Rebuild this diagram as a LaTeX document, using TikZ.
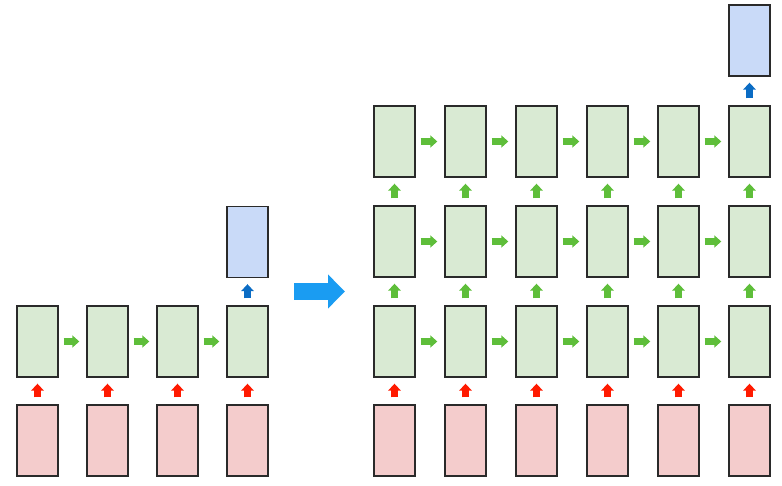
\documentclass[tikz,border=0pt]{standalone}
\usetikzlibrary{arrows.meta}
\definecolor{gfill}{HTML}{D9EAD3}
\definecolor{rfill}{HTML}{F4CCCC}
\definecolor{bfill}{HTML}{C9DAF8}
\definecolor{garrow}{HTML}{5EBE3A}
\definecolor{rarrow}{HTML}{FF1A00}
\definecolor{barrow}{HTML}{0B6CC4}
\definecolor{bigarrow}{HTML}{1A9CF2}
\definecolor{edge}{HTML}{2A2A2A}
\tikzset{
  cell/.style={draw=edge, line width=1.4pt, minimum width=41pt, minimum height=71pt, inner sep=0pt},
  gcell/.style={cell, fill=gfill},
  rcell/.style={cell, fill=rfill},
  bcell/.style={cell, fill=bfill},
  harr/.style={draw=garrow, line width=6.5pt, shorten <=5pt, shorten >=7pt, -{Triangle[width=12pt,length=7pt]}},
  varr/.style={line width=6.5pt, shorten <=7pt, shorten >=6pt, -{Triangle[width=12.5pt,length=7pt]}},
}
\begin{document}
\begin{tikzpicture}[x=1pt,y=-1pt]
\useasboundingbox (0,0) rectangle (782,486);
% left part
\foreach \i in {1,...,4} {
  \node[rcell] (lr\i) at ({37.5+70*(\i-1)},440.5) {};
  \node[gcell] (lg\i) at ({37.5+70*(\i-1)},341.5) {};
  \draw[varr, draw=rarrow] (lr\i) -- (lg\i);
}
\foreach \i/\j in {1/2,2/3,3/4} \draw[harr] (lg\i) -- (lg\j);
\node[bcell] (lb) at (247.5,242) {};
\draw[varr, draw=barrow] (lg4) -- (lb);
% big arrow
\coordinate (bs) at (294,291.5);
\coordinate (be) at (345,291.5);
\draw[draw=bigarrow, line width=17pt, -{Triangle[width=33pt,length=17pt]}] (bs) -- (be);
% right part
\foreach \i in {1,...,6} {
  \node[rcell] (rr\i) at ({394.5+71*(\i-1)},440.5) {};
  \node[gcell] (ra\i) at ({394.5+71*(\i-1)},341.5) {};
  \node[gcell] (rb\i) at ({394.5+71*(\i-1)},241.5) {};
  \node[gcell] (rc\i) at ({394.5+71*(\i-1)},141.5) {};
  \draw[varr, draw=rarrow] (rr\i) -- (ra\i);
  \draw[varr, draw=garrow] (ra\i) -- (rb\i);
  \draw[varr, draw=garrow] (rb\i) -- (rc\i);
}
\foreach \i/\j in {1/2,2/3,3/4,4/5,5/6} {
  \draw[harr] (ra\i) -- (ra\j);
  \draw[harr] (rb\i) -- (rb\j);
  \draw[harr] (rc\i) -- (rc\j);
}
\node[bcell] (rt) at (749.5,40.5) {};
\draw[varr, draw=barrow] (rc6) -- (rt);
\end{tikzpicture}
\end{document}
